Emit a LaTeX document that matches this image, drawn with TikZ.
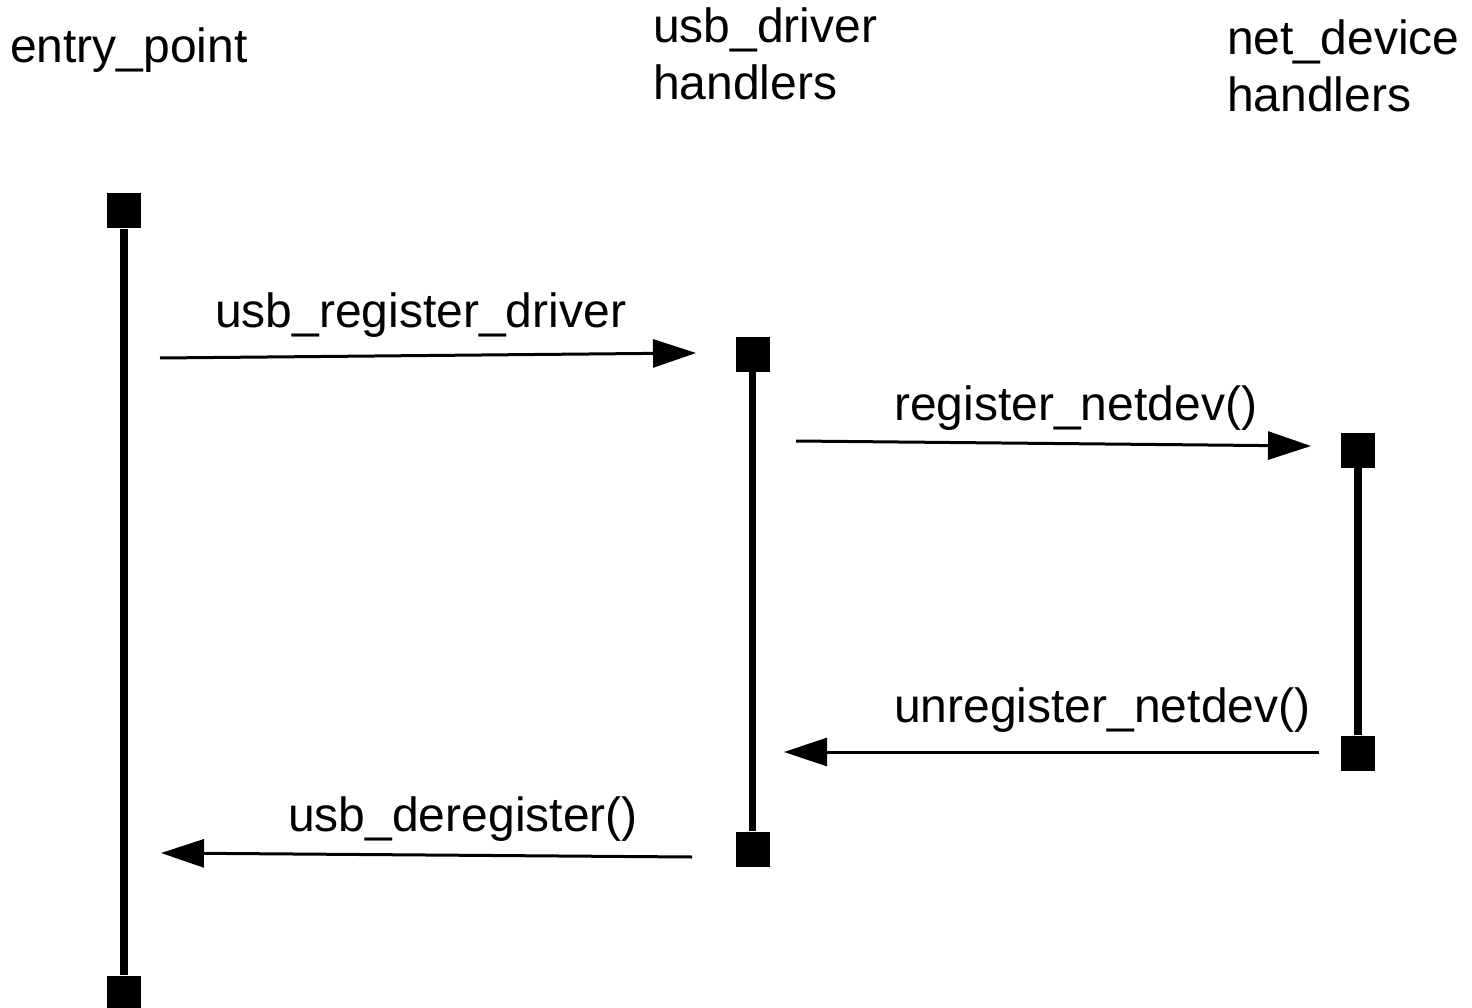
\documentclass[tikz,border=0pt]{standalone}
\usepackage{fontspec}
\setmainfont{Liberation Sans}
\usetikzlibrary{arrows.meta}
\begin{document}
\begin{tikzpicture}[x=1pt,y=-1pt,
  lbl/.style={anchor=base west,inner sep=0pt,font=\fontsize{48}{57}\selectfont,align=left},
  endbox/.style={fill=black,inner sep=0pt,minimum width=34pt,minimum height=35pt},
  lifeline/.style={line width=7.5pt},
  msg/.style={line width=3pt,-{Triangle[length=43pt,width=28pt]}}]
\useasboundingbox (0,0) rectangle (1472,1008);
% headings (base anchor = baseline of last line)
\node[lbl] (h1) at (10,63) {entry\_point};
\node[lbl] (h2) at (653,100) {usb\_driver\\handlers};
\node[lbl] (h3) at (1227,112) {net\_device\\handlers};
% lifeline end boxes
\node[endbox] (a1) at (124,211) {};
\node[endbox] (a2) at (124,993) {};
\node[endbox] (b1) at (752.5,354.5) {};
\node[endbox] (b2) at (752.5,849) {};
\node[endbox] (c1) at (1358,450.5) {};
\node[endbox] (c2) at (1358,753) {};
\draw[lifeline] (a1) -- (a2);
\draw[lifeline] (b1) -- (b2);
\draw[lifeline] (c1) -- (c2);
% message end points
\coordinate (m1s) at (160,358); \coordinate (m1e) at (696,353);
\coordinate (m2s) at (796,441); \coordinate (m2e) at (1311,446);
\coordinate (m3s) at (1319,752); \coordinate (m3e) at (784,752);
\coordinate (m4s) at (692,857); \coordinate (m4e) at (161,853);
\draw[msg] (m1s) -- (m1e);
\draw[msg] (m2s) -- (m2e);
\draw[msg] (m3s) -- (m3e);
\draw[msg] (m4s) -- (m4e);
% message labels
\node[lbl] (l1) at (215,327) {usb\_register\_driver};
\node[lbl] (l2) at (894,420) {register\_netdev()};
\node[lbl] (l3) at (894,722) {unregister\_netdev()};
\node[lbl] (l4) at (288,831) {usb\_deregister()};
\end{tikzpicture}
\end{document}
